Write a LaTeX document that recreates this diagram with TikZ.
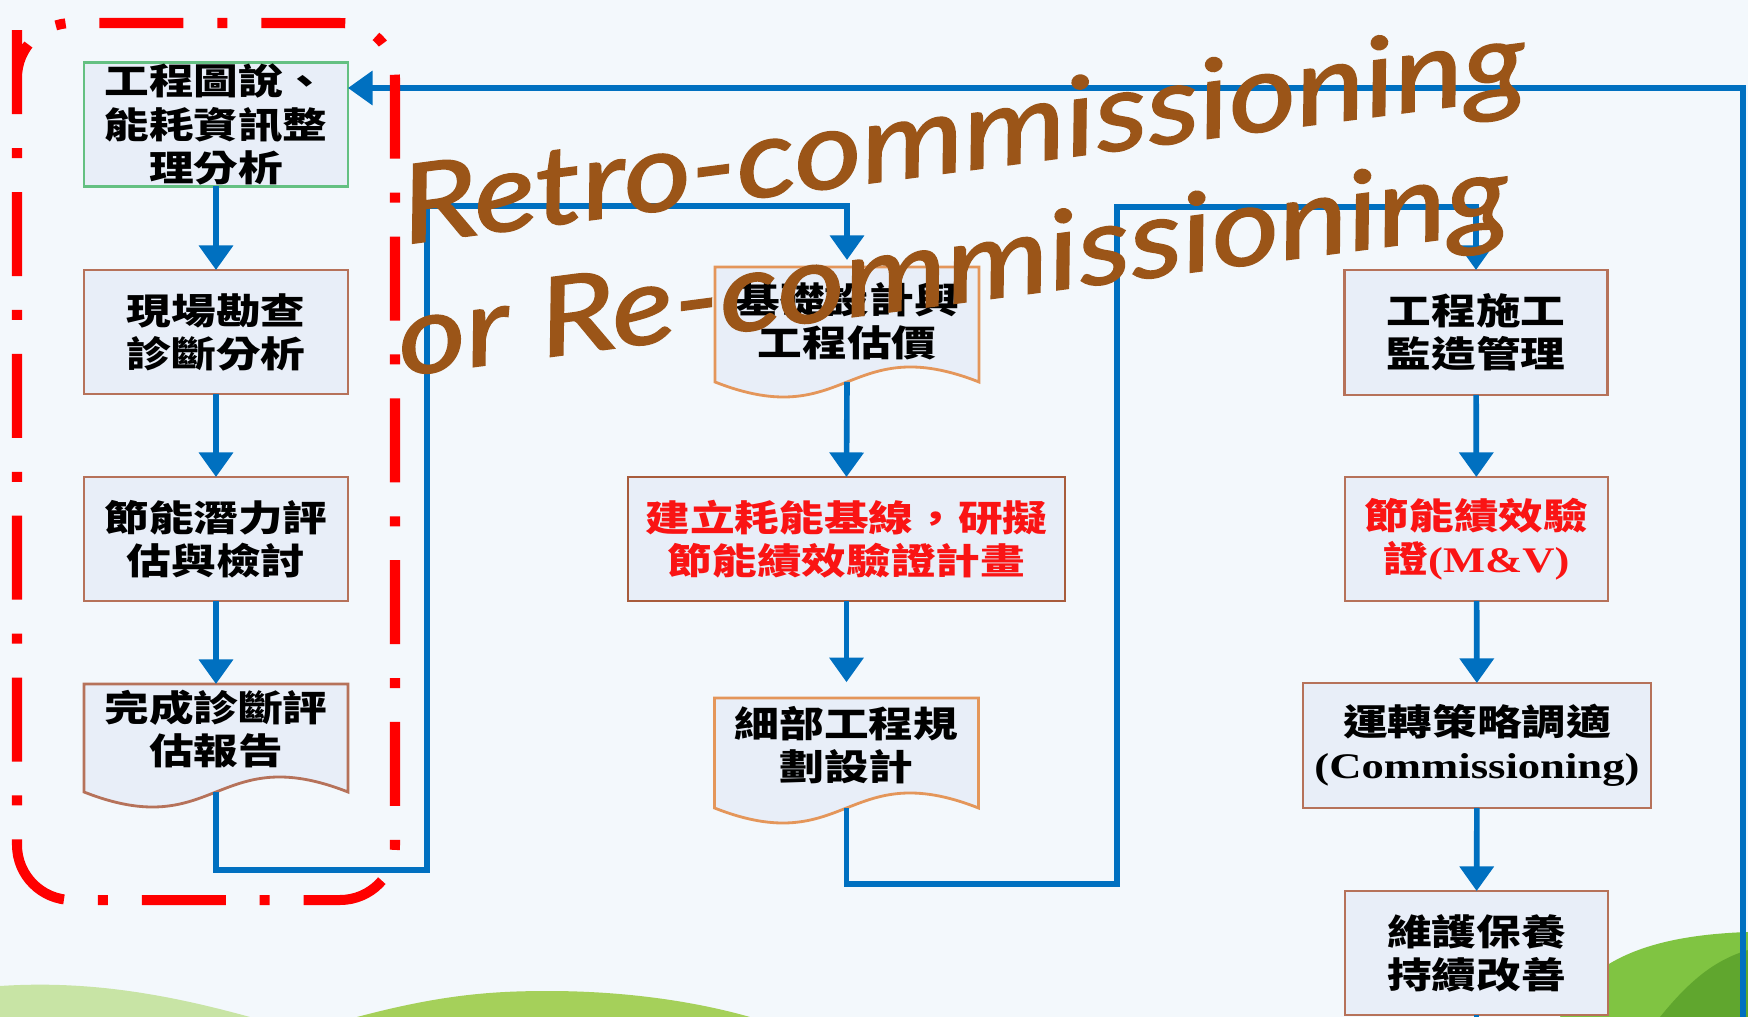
\documentclass[tikz,border=0pt]{standalone}
\usepackage{fontspec}
\usetikzlibrary{arrows.meta,calc}
\newfontfamily\cjk[FakeStretch=1.24]{Noto Sans CJK TC}
\newfontfamily\lat[FakeStretch=1.24]{Liberation Serif}
\newfontfamily\hand[FakeStretch=1.2,FakeBold=1.6]{Lato}
\definecolor{bgc}{RGB}{243,248,252}
\definecolor{boxfill}{RGB}{232,238,248}
\definecolor{bluel}{RGB}{0,112,192}
\definecolor{brownbd}{RGB}{182,114,90}
\definecolor{darkbd}{RGB}{168,92,60}
\definecolor{orangebd}{RGB}{228,150,90}
\definecolor{greenbd}{RGB}{100,192,130}
\definecolor{handbrown}{RGB}{155,85,24}
\definecolor{redtxt}{RGB}{250,20,20}
\definecolor{hilllight}{RGB}{200,228,165}
\definecolor{hillmid}{RGB}{165,208,90}
\definecolor{hillgreen}{RGB}{128,196,66}
\definecolor{hilldark}{RGB}{96,166,46}
\pgfdeclarelayer{back}
\pgfdeclarelayer{docs}
\pgfsetlayers{back,docs,main}
\tikzset{
  bx/.style={draw=brownbd, line width=1.6pt, fill=boxfill, inner sep=0pt, outer sep=0pt,
    minimum width=5.28cm, minimum height=2.48cm, align=center,
    font={\fontsize{20.5pt}{24.5pt}\cjk\bfseries}, text=black},
  doctext/.style={inner sep=0pt, outer sep=0pt, minimum width=5.28cm, align=center,
    font={\fontsize{20.5pt}{24.5pt}\cjk\bfseries}, text=black},
  docshape/.style={draw=orangebd, line width=1.6pt, fill=boxfill},
  arr/.style={draw=bluel, line width=3.2pt, -{Triangle[length=14pt,width=19pt]}},
  blueline/.style={draw=bluel, line width=3.2pt},
  handtext/.style={text=handbrown, inner sep=0pt, font={\fontsize{62pt}{66pt}\hand\itshape}},
}
\begin{document}
\begin{tikzpicture}[x=0.02cm, y=-0.02cm]
\useasboundingbox (0,0) rectangle (1748,1017);
\clip (0,0) rectangle (1748,1017);
\begin{pgfonlayer}{back}
\fill[bgc] (0,0) rectangle (1748,1017);
\fill[hilllight] (0,986) .. controls (90,980) and (170,995) .. (250,1017) -- (0,1017) -- cycle;
\fill[hillmid] (357,1017) .. controls (440,995) and (490,991) .. (548,991) .. controls (620,991) and (690,1000) .. (750,1017) -- cycle;
\fill[hillgreen] (1560,1017) .. controls (1590,955) and (1660,935) .. (1748,932) -- (1748,1017) -- cycle;
\fill[hilldark] (1660,1017) .. controls (1690,980) and (1715,960) .. (1748,950) -- (1748,1017) -- cycle;
\end{pgfonlayer}

% left column
\node[bx, draw=greenbd] (b1) at (216,124.5) {工程圖說、\\能耗資訊整\\理分析};
\node[bx] (b2) at (216,332) {現場勘查\\診斷分析};
\node[bx] (b3) at (216,539) {節能潛力評\\估與檢討};
\node[doctext, minimum height=1.82cm] (b4) at (216,729.5) {完成診斷評\\估報告};

% middle column
\node[doctext, minimum height=2.16cm] (b5) at (847,321) {基礎設計與\\工程估價};
\node[bx, draw=darkbd, minimum width=8.74cm, text=redtxt] (b6) at (846.5,539) {建立耗能基線，研擬\\節能績效驗證計畫};
\node[doctext, minimum height=1.88cm] (b7) at (846.5,745) {細部工程規\\劃設計};

% right column
\node[bx, minimum width=5.26cm, minimum height=2.5cm] (b8) at (1476,332.5) {工程施工\\監造管理};
\node[bx, minimum width=5.26cm, text=redtxt] (b9) at (1476.5,539) {節能績效驗\\證{\lat\bfseries(M\&V)}};
\node[bx, minimum width=6.96cm, minimum height=2.5cm] (b10) at (1477,745.5) {運轉策略調適\\{\lat\bfseries(Commissioning)}};
\node[bx, minimum width=5.26cm] (b11) at (1476.5,953) {維護保養\\持續改善};

\begin{pgfonlayer}{docs}
\path[docshape, draw=brownbd] (b4.north west) -- (b4.north east) -- ($(b4.south east)+(0,17)$)
  .. controls ($(b4.south)+(0,-35)$) and ($(b4.south)+(0,69)$) .. ($(b4.south west)+(0,17)$) -- cycle;
\path[docshape] (b5.north west) -- (b5.north east) -- ($(b5.south east)+(0,7)$)
  .. controls ($(b5.south)+(0,-45)$) and ($(b5.south)+(0,59)$) .. ($(b5.south west)+(0,7)$) -- cycle;
\path[docshape] (b7.north west) -- (b7.north east) -- ($(b7.south east)+(0,16)$)
  .. controls ($(b7.south)+(0,-36)$) and ($(b7.south)+(0,68)$) .. ($(b7.south west)+(0,16)$) -- cycle;
\end{pgfonlayer}

% connectors
\coordinate (c1) at (427,870);
\coordinate (c2) at (427,206);
\coordinate (c3) at (1117,884);
\coordinate (c4) at (1117,207);
\coordinate (rb) at (1743,1040);
\coordinate (rt) at (1743,88);

\draw[arr] (b1) -- (b2);
\draw[arr] (b2) -- (b3);
\draw[arr] (b3) -- (b4.north);
\draw[arr] ($(b4.south)+(0,17)$) |- (c1) -- (c2) -| ([yshift=4pt]b5.north);
\draw[arr] ($(b5.south)+(0,7)$) -- (b6.north);
\draw[arr] (b6.south) -- ([yshift=9pt]b7.north);
\draw[arr] ($(b7.south)+(0,16)$) |- (c3) -- (c4) -| (b8.north);
\draw[arr] (b8) -- (b9);
\draw[arr] (b9) -- (b10);
\draw[arr] (b10) -- (b11);
\draw[blueline] (b11.south) -- (b11.south |- rb);
\draw[arr] (rb) -- (rt) -- (rt -| b1.east);

% red dash-dot frame
\draw[red, line width=5.7pt, dash pattern=on 47.8pt off 19.3pt on 5.7pt off 19.3pt, rounded corners=1.1cm]
  (17,85) -- (17,23) -- (395,23) -- (395,900) -- (17,900) -- cycle;

% handwritten annotation
\node[handtext, anchor=base west, rotate=7.5] (t1) at (406,244) {Retro-commissioning};
\node[handtext, anchor=base west, rotate=7.5] (t2) at (402,376) {or Re-commissioning};
\end{tikzpicture}
\end{document}
